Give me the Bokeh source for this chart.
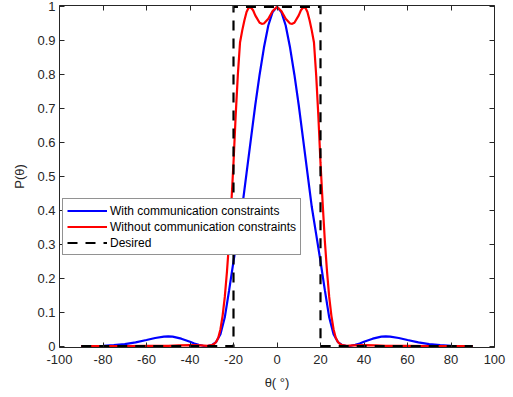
from bokeh.plotting import figure
from bokeh.models import (Range1d, FixedTicker, LinearAxis, CustomJSTickFormatter,
                          Legend, LegendItem)
from bokeh.embed import file_html
from bokeh.resources import INLINE

# ---- data ----
theta_blue = [-90, -85, -80, -75, -70, -65, -60, -56, -52, -50, -48, -44, -40, -38, -36,
              -34, -32, -30, -28, -26, -24, -22, -20, -18, -16, -14, -12, -10, -8, -6,
              -4, -2, 0, 2, 4, 6, 8, 10, 12, 14, 16, 18, 20, 22, 24, 26, 28, 30, 32,
              34, 36, 38, 40, 44, 48, 50, 52, 56, 60, 65, 70, 75, 80, 85, 90]
p_blue = [0.0, 0.0003, 0.001, 0.003, 0.006, 0.011, 0.018, 0.024, 0.028, 0.029, 0.028,
          0.022, 0.013, 0.008, 0.004, 0.001, 0.0, 0.003, 0.012, 0.035, 0.085, 0.165,
          0.25, 0.33, 0.41, 0.51, 0.61, 0.71, 0.80, 0.88, 0.945, 0.985, 1.0, 0.985,
          0.945, 0.88, 0.80, 0.71, 0.61, 0.51, 0.41, 0.33, 0.25, 0.165, 0.085, 0.035,
          0.012, 0.003, 0.0, 0.001, 0.004, 0.008, 0.013, 0.022, 0.028, 0.029, 0.028,
          0.024, 0.018, 0.011, 0.006, 0.003, 0.001, 0.0003, 0.0]

theta_red = [-90, -70, -60, -50, -45, -40, -35, -32, -30, -29, -28, -27, -26, -25, -24,
             -23, -22, -21, -20, -19, -18, -17, -16, -15, -14, -13, -12, -11, -10, -8,
             -7, -6, -4, -2, 0, 2, 4, 6, 7, 8, 10, 11, 12, 13, 14, 15, 16, 17, 18, 19,
             20, 21, 22, 23, 24, 25, 26, 27, 28, 29, 30, 32, 35, 40, 45, 50, 60, 70, 90]
p_red = [0.0, 0.0, 0.0005, 0.001, 0.002, 0.003, 0.002, 0.001, 0.003, 0.006, 0.012,
         0.025, 0.05, 0.09, 0.145, 0.22, 0.31, 0.42, 0.54, 0.68, 0.80, 0.895, 0.93,
         0.96, 0.985, 0.998, 0.998, 0.99, 0.975, 0.953, 0.95, 0.951, 0.965, 0.988, 1.0,
         0.988, 0.965, 0.951, 0.95, 0.953, 0.975, 0.99, 0.998, 0.998, 0.985, 0.96,
         0.93, 0.895, 0.80, 0.68, 0.54, 0.42, 0.31, 0.22, 0.145, 0.09, 0.05, 0.025,
         0.012, 0.006, 0.003, 0.001, 0.002, 0.003, 0.002, 0.001, 0.0005, 0.0, 0.0]

theta_desired = [-90, -20, -20, 20, 20, 90]
p_desired = [0, 0, 1, 1, 0, 0]

x_ticks = [-100, -80, -60, -40, -20, 0, 20, 40, 60, 80, 100]
y_ticks = [0, 0.1, 0.2, 0.3, 0.4, 0.5, 0.6, 0.7, 0.8, 0.9, 1]

labels = ["With communication constraints", "Without communication constraints", "Desired"]

FONT = "Liberation Sans"
AX = "#262626"

p = figure(frame_width=435, frame_height=342, output_backend="svg", toolbar_location=None,
           x_range=Range1d(-100, 100), y_range=Range1d(-0.004, 1.004),
           min_border_left=59, min_border_right=19, min_border_top=5, min_border_bottom=50,
           x_axis_label="θ( °)", y_axis_label="P(θ)")
p.xgrid.visible = False
p.ygrid.visible = False
p.outline_line_color = None

xfmt = CustomJSTickFormatter(code="return tick.toFixed(0);")
yfmt = CustomJSTickFormatter(code="return String(Number(tick.toFixed(1)));")
blankfmt = CustomJSTickFormatter(code="return '';")

for ax in (p.xaxis[0], p.yaxis[0]):
    ax.major_tick_in = 5
    ax.major_tick_out = 0
    ax.minor_tick_line_color = None
    ax.axis_line_color = AX
    ax.major_tick_line_color = AX
    ax.major_label_text_color = AX
    ax.major_label_text_font = FONT
    ax.major_label_text_font_size = "13px"
    ax.axis_label_text_font = FONT
    ax.axis_label_text_font_size = "13px"
    ax.axis_label_text_font_style = "normal"
    ax.axis_label_text_color = AX

p.xaxis[0].ticker = FixedTicker(ticks=x_ticks)
p.xaxis[0].formatter = xfmt
p.xaxis[0].major_label_standoff = 7
p.xaxis[0].axis_label_standoff = 8
p.yaxis[0].ticker = FixedTicker(ticks=y_ticks)
p.yaxis[0].formatter = yfmt
p.yaxis[0].major_label_standoff = 4
p.yaxis[0].axis_label_standoff = 7

top = LinearAxis(ticker=FixedTicker(ticks=x_ticks), formatter=blankfmt)
right = LinearAxis(ticker=FixedTicker(ticks=y_ticks), formatter=blankfmt)
for ax in (top, right):
    ax.major_tick_in = 5
    ax.major_tick_out = 0
    ax.minor_tick_line_color = None
    ax.axis_line_color = AX
    ax.major_tick_line_color = AX
    ax.major_label_standoff = 0
p.add_layout(top, "above")
p.add_layout(right, "right")

r_blue = p.line(theta_blue, p_blue, line_color="#0000FF", line_width=2.2)
r_red = p.line(theta_red, p_red, line_color="#FF0000", line_width=2.2)
r_des = p.line(theta_desired, p_desired, line_color="black", line_width=2.2,
               line_dash="10 8", line_join="miter")

legend = Legend(items=[LegendItem(label=labels[0], renderers=[r_blue]),
                       LegendItem(label=labels[1], renderers=[r_red]),
                       LegendItem(label=labels[2], renderers=[r_des])],
                location=(3, 92))
legend.label_text_font = FONT
legend.label_text_font_size = "12px"
legend.label_text_color = "black"
legend.glyph_width = 40
legend.glyph_height = 15
legend.label_height = 15
legend.label_standoff = 3
legend.spacing = 1
legend.padding = 4
legend.margin = 0
legend.border_line_color = AX
legend.border_line_width = 1
legend.background_fill_color = "white"
legend.background_fill_alpha = 1
p.add_layout(legend, "center")

open("out.html", "w").write(file_html(p, INLINE))
